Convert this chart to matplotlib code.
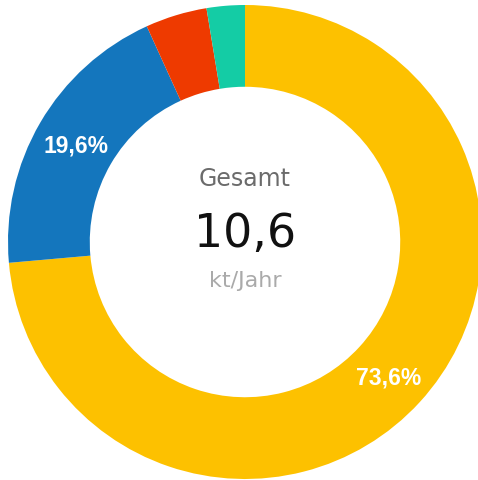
# donut chart: Gesamt 10,6 kt/Jahr
import matplotlib
matplotlib.use("Agg")
import matplotlib.pyplot as plt

# data
shares = [73.6, 19.6, 4.2, 2.6]
colors = ['#fdc100', '#1476bd', '#ee3a00', '#14cca5']
labels = ['73,6%', '19,6%', '', '']
total_label = '10,6'

fig = plt.figure(figsize=(4.78, 4.81), dpi=100)
ax = fig.add_axes([0, 0, 1, 1])

wedges, texts = ax.pie(shares, colors=colors, startangle=90, counterclock=False,
                       radius=1.0, wedgeprops=dict(width=0.345, linewidth=0))

# percent labels (only the two big ones are labelled)
label_pos = {0: (0.605, -0.57), 1: (-0.712, 0.41)}
for i, txt in enumerate(labels):
    if txt:
        x, y = label_pos[i]
        ax.text(x, y, txt, color='white', fontsize=16.5, fontweight='bold',
                family='Liberation Sans', ha='center', va='center')

# centre text
ax.text(0, 0.27, 'Gesamt', fontsize=17, color='#6b6b6b', ha='center', va='center', family='DejaVu Sans')
ax.text(0, 0.035, total_label, fontsize=33, color='#111111', ha='center', va='center', family='DejaVu Sans')
ax.text(0, -0.16, 'kt/Jahr', fontsize=16, color='#aaaaaa', ha='center', va='center', family='DejaVu Sans')

ax.set_xlim(-245 / 237, 233 / 237)
ax.set_ylim(-238 / 237, 243 / 237)
ax.set_aspect('auto')
ax.axis('off')

fig.savefig('out.png', dpi=100)
